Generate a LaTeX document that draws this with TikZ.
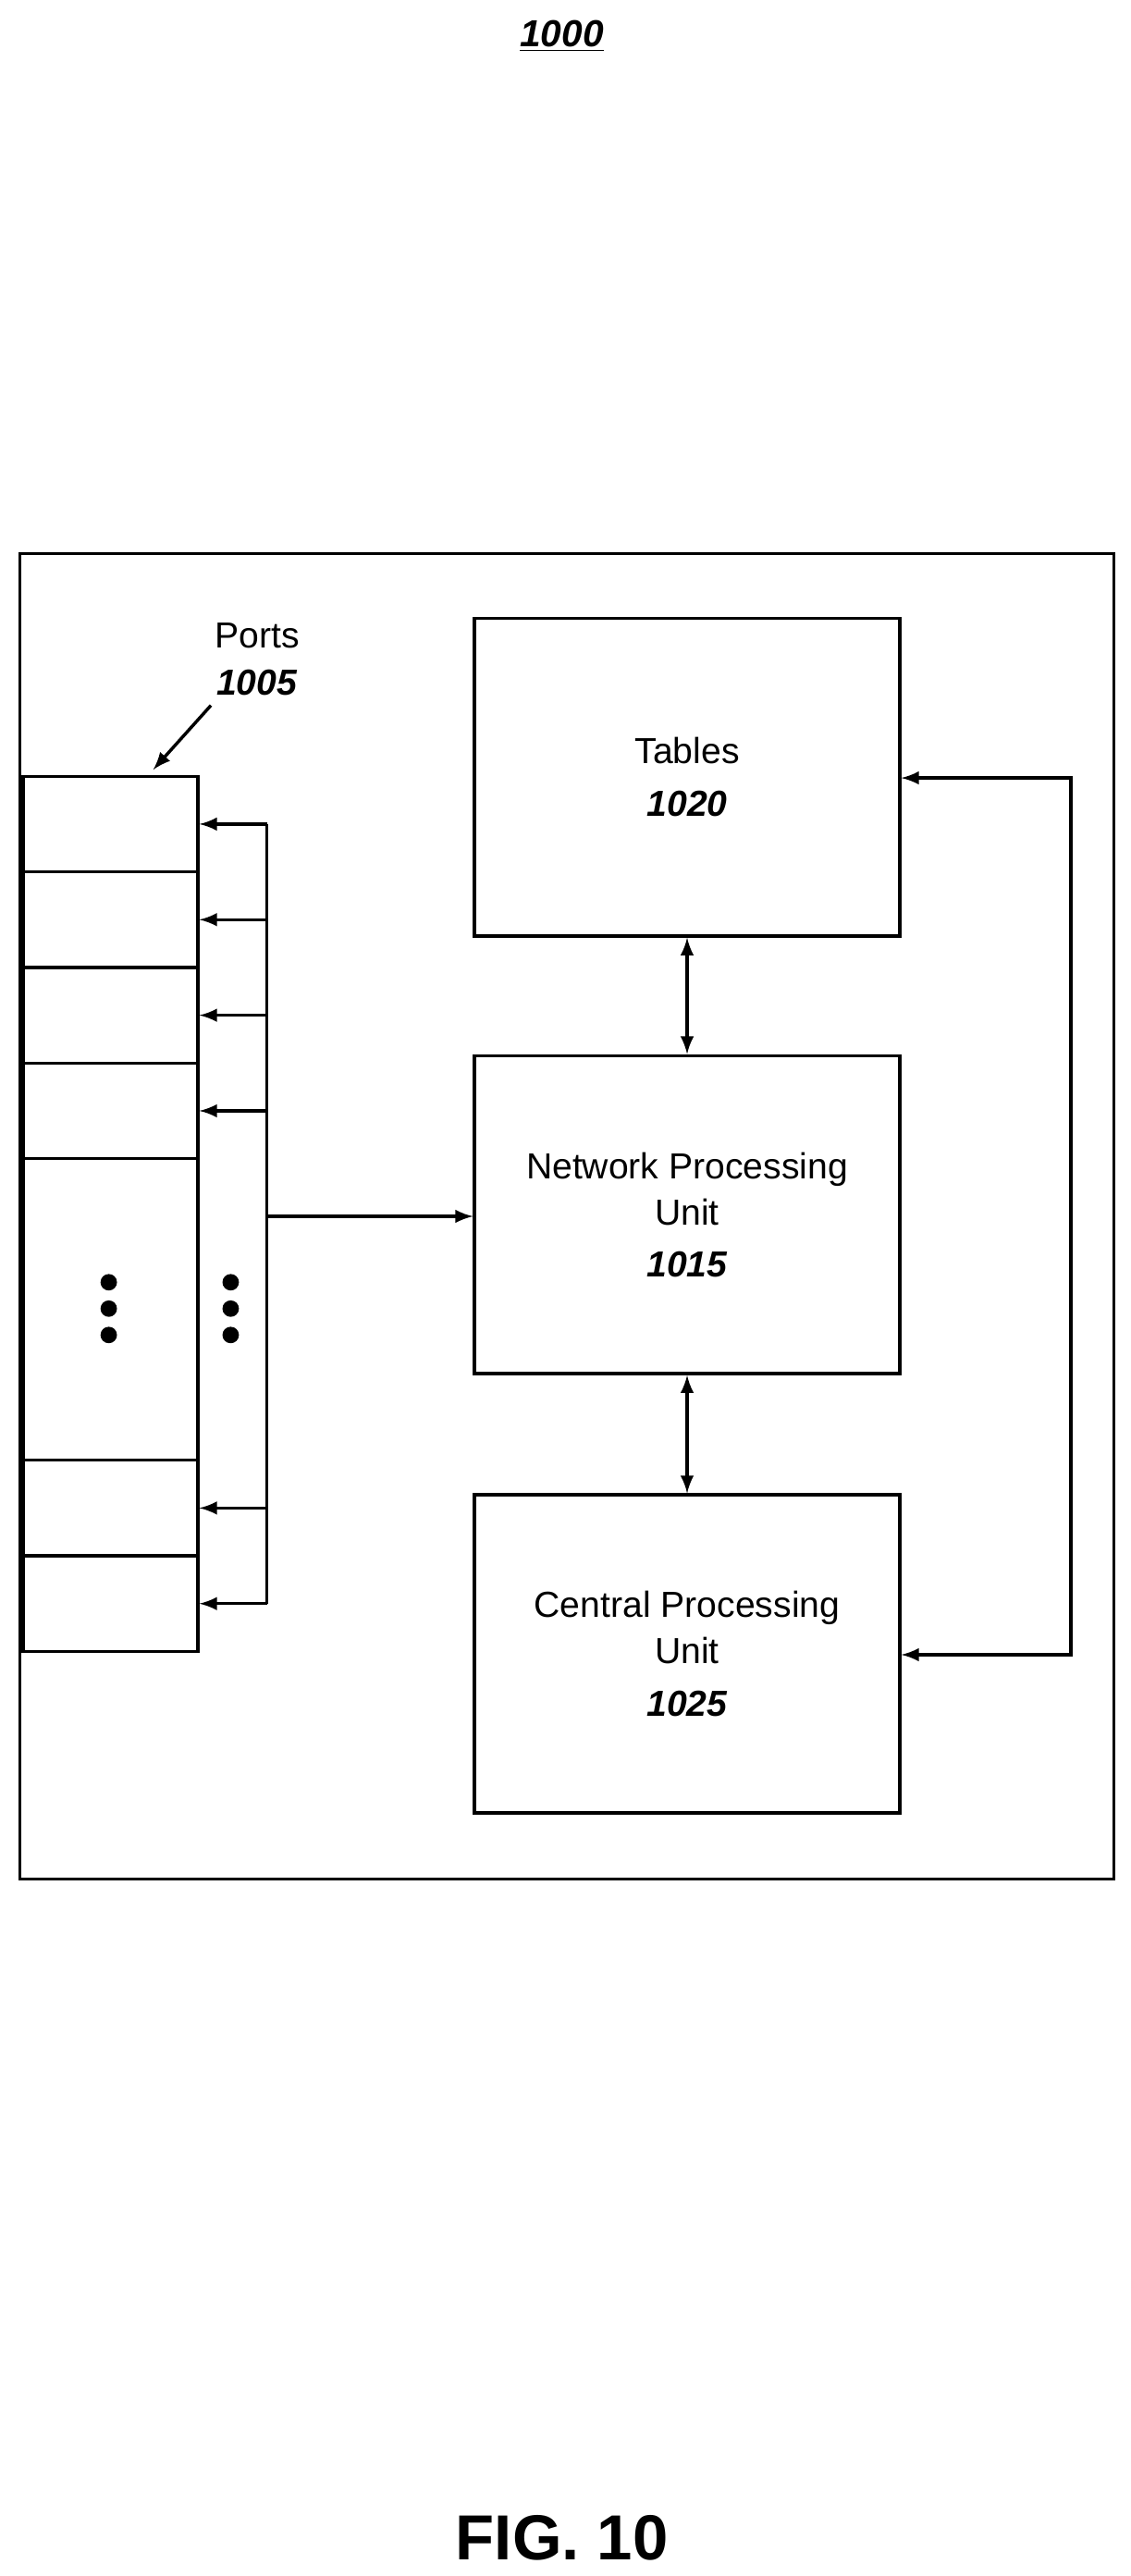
\documentclass[tikz,border=0pt]{standalone}
\usepackage{fontspec}
\setmainfont{Liberation Sans}
\usetikzlibrary{positioning}
\tikzset{
	blk/.style={draw=black,line width=1.1pt,minimum width=5.16cm,minimum height=3.86cm,align=center,font=\fontsize{12.5}{16}\selectfont,inner sep=0pt},
	port/.style={draw=black,line width=1.1pt,minimum width=2.12cm,minimum height=1.16cm,inner sep=0pt},
	con/.style={line width=1.1pt,-latex},
	dcon/.style={line width=1.1pt,latex-latex},
	dot/.style={circle,fill=black,inner sep=0pt,minimum size=0.2cm}
}
\begin{document}
\begin{tikzpicture}[x=0.02cm,y=-0.02cm]
	\useasboundingbox (0,0) rectangle (686,1563);
	\node[font=\bfseries\itshape\fontsize{13}{16}\selectfont] (fig) at (341,22) {\underline{1000}};
	\draw[line width=1.1pt] (12,336) rectangle (676,1140);
	% ports
	\foreach \i/\y in {1/500,2/558,3/616,4/674,5/915,6/973}
		\node[port] (p\i) at (67,\y) {};
	\node[draw=black,line width=1.1pt,minimum width=2.12cm,minimum height=3.66cm,inner sep=0pt] (pmid) at (67,794.5) {};
	\node[font=\fontsize{12.5}{16}\selectfont,align=center,draw=none] (plabel) at (156,400) {Ports\\\textbf{\textit{1005}}};
	\coordinate (pa) at (128,428);
	\draw[con] (pa) -- (93,467);
	% blocks
	\node[blk] (tab) at (417,471.5) {Tables\\[2pt]\textbf{\textit{1020}}};
	\node[blk] (npu) at (417,737) {Network Processing\\Unit\\[2pt]\textbf{\textit{1015}}};
	\node[blk] (cpu) at (417,1003.5) {Central Processing\\Unit\\[2pt]\textbf{\textit{1025}}};
	% bus
	\coordinate (bt) at (162,500);
	\coordinate (bb) at (162,973);
	\draw[line width=1.1pt] (bt) -- (bb);
	\foreach \i in {1,...,6}
		\draw[con] (bt |- p\i) -- (p\i.east);
	\draw[con] (162,738) -- (npu.west |- 0,738);
	\foreach \y in {778,794,810}{
		\node[dot] at (66,\y) {};
		\node[dot] at (140,\y) {};
	}
	\draw[dcon] (tab) -- (npu);
	\draw[dcon] (npu) -- (cpu);
	\coordinate (rt) at (650,472);
	\coordinate (rb) at (650,1004);
	\draw[dcon] (tab.east |- rt) -- (rt) -- (rb) -- (cpu.east |- rb);
	\node[font=\bfseries\fontsize{22}{26}\selectfont] (cap) at (341,1540) {FIG. 10};
\end{tikzpicture}
\end{document}
